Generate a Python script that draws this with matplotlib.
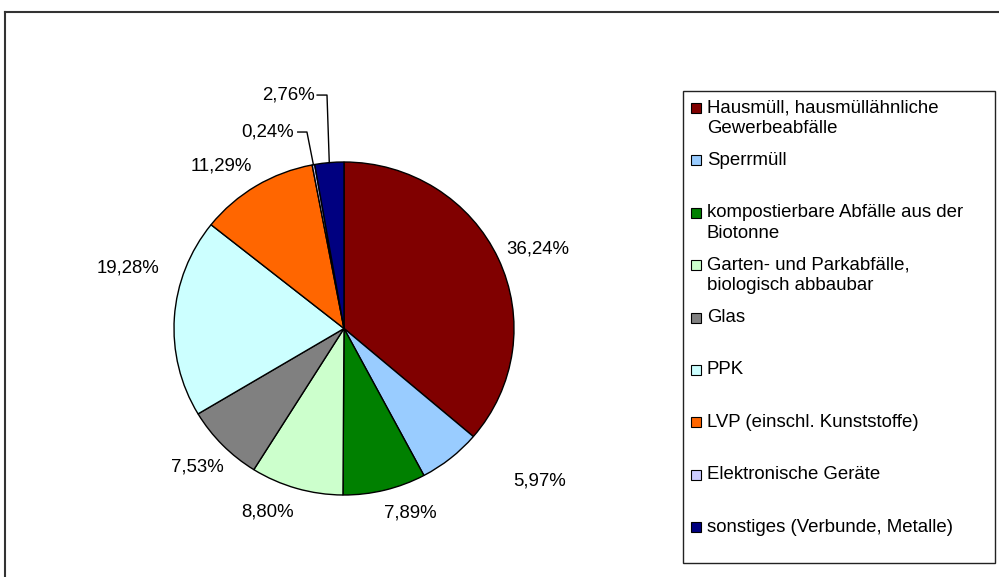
import matplotlib
matplotlib.use("Agg")
import matplotlib.pyplot as plt
from matplotlib.lines import Line2D
from matplotlib.patches import Rectangle
import numpy as np

plt.rcParams["font.family"] = ["Liberation Sans", "DejaVu Sans"]

# data
categories = [
    "Hausmüll, hausmüllähnliche\nGewerbeabfälle",
    "Sperrmüll",
    "kompostierbare Abfälle aus der\nBiotonne",
    "Garten- und Parkabfälle,\nbiologisch abbaubar",
    "Glas",
    "PPK",
    "LVP (einschl. Kunststoffe)",
    "Elektronische Geräte",
    "sonstiges (Verbunde, Metalle)",
]
shares = [36.24, 5.97, 7.89, 8.80, 7.53, 19.28, 11.29, 0.24, 2.76]
colors = ["#800000", "#99CCFF", "#008000", "#CCFFCC", "#808080",
          "#CCFFFF", "#FF6600", "#CCCCFF", "#000080"]

# label layout in pie radius units (x right, y up), Excel-like placement
label_xy = [(1.141, 0.477), (1.153, -0.916), (0.388, -1.108), (-0.447, -1.102),
            (-0.865, -0.832), (-1.271, 0.363), (-0.724, 0.976),
            (-0.447, 1.180), (-0.329, 1.402)]
# small slices get a leader line: (label end x, elbow x)
leaders = {7: (-0.272, -0.218), 8: (-0.158, -0.100)}

W, H = 999, 577
FS = 13.4


def fx(px):
    return px / W


def fy(py):
    return 1 - py / H


fig = plt.figure(figsize=(W / 100, H / 100), dpi=100)
fig.patch.set_facecolor("white")

# outer chart frame (right/bottom edges are cut off in the original)
fig.add_artist(Line2D([fx(5), fx(5)], [fy(12), 0], color="#333333", lw=1.5))
fig.add_artist(Line2D([fx(5), 1], [fy(12), fy(12)], color="#333333", lw=1.5))

# pie, slightly elliptic like the original
cx, cy, rx, ry = 344, 328.5, 170, 166.5
lim = 1.25
ax = fig.add_axes([fx(cx - lim * rx), fy(cy + lim * ry), 2 * lim * rx / W, 2 * lim * ry / H])
wedges, _ = ax.pie(shares, colors=colors, startangle=90, counterclock=False,
                   wedgeprops=dict(edgecolor="black", linewidth=1.0))
ax.set_aspect("auto")
ax.set_xlim(-lim, lim)
ax.set_ylim(-lim, lim)
ax.axis("off")

for i, (val, w) in enumerate(zip(shares, wedges)):
    txt = f"{val:.2f}".replace(".", ",") + "%"
    lx, ly = label_xy[i]
    ax.text(lx, ly, txt, ha="center", va="center", fontsize=FS, clip_on=False)
    if i in leaders:
        x_end, x_elbow = leaders[i]
        th = np.deg2rad((w.theta1 + w.theta2) / 2)
        ax.plot([x_end, x_elbow, np.cos(th)], [ly, ly, np.sin(th)],
                color="black", lw=1.0, clip_on=False)

# legend box
x0, y0, x1, y1 = 683, 91, 995, 563
fig.add_artist(Rectangle((fx(x0), fy(y1)), (x1 - x0) / W, (y1 - y0) / H,
                         transform=fig.transFigure, facecolor="white",
                         edgecolor="#222222", lw=1.0))
first_y, step, line_h = 108, 52.4, 20.3
for i, (lab, col) in enumerate(zip(categories, colors)):
    yy = first_y + i * step
    fig.add_artist(Rectangle((fx(691), fy(yy + 5)), 10 / W, 10 / H,
                             transform=fig.transFigure, facecolor=col,
                             edgecolor="black", lw=0.8))
    for j, part in enumerate(lab.split("\n")):
        fig.text(fx(707), fy(yy + j * line_h), part, ha="left", va="center",
                 fontsize=FS)

fig.savefig("out.png", dpi=100)
